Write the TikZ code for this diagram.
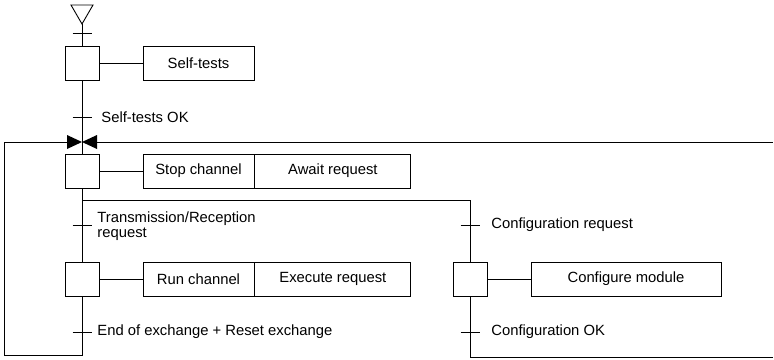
\documentclass[tikz,border=0pt]{standalone}
\usepackage{fontspec}
\setmainfont{Liberation Sans}
\begin{document}
\begin{tikzpicture}[x=1pt,y=-1pt,line width=0.9pt,
  every node/.style={font=\fontsize{14.8}{15.5}\selectfont},
  stepbox/.style={draw,minimum width=34pt,minimum height=34pt,inner sep=0pt},
  actbox/.style={draw,minimum height=34pt,inner sep=0pt},
  bar/.style={line width=0.9pt},
  lbl/.style={anchor=west,inner sep=0pt,align=left}]
\useasboundingbox (0,0) rectangle (774,359);

% initial step marker (open triangle)
\coordinate (init) at (82,24);
\draw[line join=miter] (init) -- (71,5) -- (93,5) -- cycle;

% steps
\node[stepbox] (s1) at (82,63) {};
\node[stepbox] (s2) at (82,171) {};
\node[stepbox] (s3) at (82,279) {};
\node[stepbox] (s4) at (470,279) {};

% actions
\node[actbox,minimum width=111pt] (a1) at (198.5,63) {Self-tests};
\node[actbox,minimum width=111pt] (a2) at (198.5,171) {Stop channel};
\node[actbox,minimum width=156pt,anchor=west] (a2b) at (a2.east) {Await request};
\node[actbox,minimum width=111pt] (a3) at (198.5,279) {Run channel};
\node[actbox,minimum width=156pt,anchor=west] (a3b) at (a3.east) {Execute request};
\node[actbox,minimum width=190pt] (a4) at (626,279) {Configure module};

% transitions
\coordinate (t0) at (82,33);
\coordinate (t1) at (82,117);
\coordinate (t2) at (82,225);
\coordinate (t3) at (82,332);
\coordinate (t4) at (470,225);
\coordinate (t5) at (470,332);
\foreach \t in {t0,t1,t2,t3,t4,t5}
  \draw[bar] ([xshift=-9.5pt]\t) -- ([xshift=9.5pt]\t);

\node[lbl] (l1) at (101,117) {Self-tests OK};
\node[lbl] (l2) at (97,226) {Transmission/Reception\\request};
\node[lbl] (l3) at (97,332) {End of exchange + Reset exchange};
\node[lbl] (l4) at (491,225) {Configuration request};
\node[lbl] (l5) at (491,332) {Configuration OK};

% junction (bow tie) where the loops come back
\coordinate (j) at (82,142);
\fill (j) -- (67,135) -- (67,149) -- cycle;
\fill (j) -- (97,135) -- (97,149) -- cycle;

% links
\draw (init) -- (s1.north);
\draw (s1.east) -- (a1.west);
\draw (s2.east) -- (a2.west);
\draw (s3.east) -- (a3.west);
\draw (s4.east) -- (a4.west);
\draw (s1.south) -- (s2.north);
\draw (s2.south) -- (s3.north);
\coordinate (d) at (82,200);
\coordinate (dr) at (470,200);
\draw (d) -- (dr) -- (s4.north);

% loop back from run channel
\coordinate (b3) at (82,355);
\coordinate (bl) at (4,355);
\coordinate (tl) at (4,142);
\draw (s3.south) -- (b3) -- (bl) -- (tl) -- (67,142);

% loop back from configure module
\coordinate (b4) at (470,357);
\coordinate (br) at (773,357);
\coordinate (tr) at (773,142);
\draw (s4.south) -- (b4) -- (br);
\draw (97,142) -- (tr);
\end{tikzpicture}
\end{document}
